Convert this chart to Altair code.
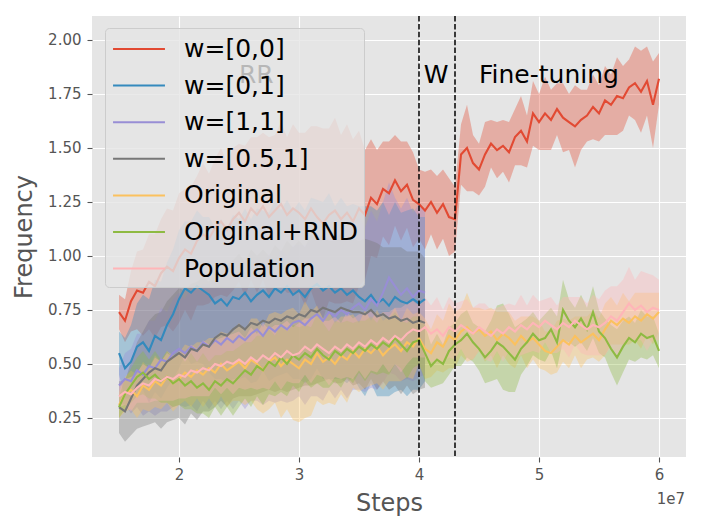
import altair as alt
import pandas as pd

SERIES = ["w=[0,0]", "w=[0,1]", "w=[1,1]", "w=[0.5,1]", "Original", "Original+RND", "Population"]
COLORS = ["#E24A33", "#348ABD", "#988ED5", "#777777", "#FBC15E", "#8EBA42", "#FFB5B8"]
START = 15_000_000
STEP = 500_000

# ---- mean curves (one value every 0.5e6 steps starting at 1.5e7) ----
red_mean = [
    0.74, 0.70, 0.79, 0.84, 0.83, 0.88, 0.86, 0.92, 0.95, 0.93,
    0.99, 1.03, 1.01, 1.07, 1.10, 1.08, 1.13, 1.16, 1.12, 1.17,
    1.20, 1.16, 1.22, 1.19, 1.23, 1.18, 1.21, 1.24, 1.19, 1.22,
    1.20, 1.17, 1.22, 1.18, 1.15, 1.19, 1.21, 1.17, 1.20, 1.16,
    1.22, 1.19, 1.27, 1.24, 1.31, 1.29, 1.35, 1.30, 1.33, 1.26,
    1.24, 1.21, 1.25, 1.20, 1.24, 1.18, 1.17, 1.47, 1.50, 1.43,
    1.40, 1.47, 1.52, 1.49, 1.51, 1.48, 1.55, 1.58, 1.53, 1.66,
    1.62, 1.66, 1.63, 1.68, 1.64, 1.62, 1.60, 1.63, 1.65, 1.69,
    1.66, 1.72, 1.70, 1.74, 1.73, 1.78, 1.80, 1.76, 1.81, 1.70,
    1.82,
]
blue_mean = [
    0.55, 0.48, 0.51, 0.58, 0.60, 0.56, 0.63, 0.61, 0.68, 0.73,
    0.80, 0.85, 0.83, 0.86, 0.84, 0.82, 0.78, 0.80, 0.77, 0.81,
    0.80, 0.83, 0.79, 0.82, 0.84, 0.81, 0.85, 0.83, 0.86, 0.82,
    0.84, 0.81, 0.85, 0.87, 0.84, 0.86, 0.83, 0.85, 0.82, 0.84,
    0.81, 0.79, 0.82, 0.78, 0.80, 0.77, 0.81, 0.79, 0.78, 0.80,
    0.78, 0.80,
]
purple_mean = [
    0.40, 0.43, 0.42, 0.47, 0.45, 0.49, 0.48, 0.52, 0.51, 0.55,
    0.57, 0.55, 0.58, 0.56, 0.60, 0.58, 0.61, 0.59, 0.62, 0.60,
    0.63, 0.61, 0.64, 0.66, 0.63, 0.67, 0.65, 0.68, 0.66, 0.69,
    0.70, 0.68, 0.71, 0.73, 0.70, 0.74, 0.72, 0.75, 0.73, 0.76,
    0.78, 0.75, 0.80, 0.77, 0.83, 0.90, 0.86, 0.82, 0.85, 0.81,
    0.84, 0.83,
]
gray_mean = [
    0.30, 0.28, 0.34, 0.40, 0.43, 0.46, 0.48, 0.47, 0.51, 0.53,
    0.55, 0.53, 0.57, 0.56, 0.59, 0.58, 0.62, 0.64, 0.63, 0.66,
    0.68, 0.66, 0.69, 0.68, 0.70, 0.69, 0.71, 0.70, 0.72, 0.71,
    0.73, 0.72, 0.75, 0.74, 0.76, 0.75, 0.74, 0.76, 0.75, 0.74,
    0.74, 0.73, 0.75, 0.72, 0.73, 0.71, 0.72, 0.70, 0.71, 0.69,
    0.70, 0.69,
]
original_mean = [
    0.31, 0.36, 0.38, 0.35, 0.40, 0.38, 0.42, 0.40, 0.44, 0.41,
    0.43, 0.46, 0.44, 0.47, 0.45, 0.48, 0.46, 0.50, 0.47, 0.49,
    0.51, 0.48, 0.52, 0.50, 0.47, 0.51, 0.53, 0.49, 0.52, 0.50,
    0.48, 0.52, 0.50, 0.55, 0.51, 0.53, 0.50, 0.54, 0.52, 0.56,
    0.53, 0.57, 0.55, 0.58, 0.54, 0.57, 0.59, 0.56, 0.60, 0.58,
    0.62, 0.57, 0.55, 0.60, 0.58, 0.63, 0.61, 0.65, 0.67, 0.64,
    0.66, 0.63, 0.65, 0.61, 0.64, 0.62, 0.59, 0.63, 0.60, 0.62,
    0.59, 0.56, 0.55, 0.58, 0.61, 0.59, 0.63, 0.60, 0.62, 0.64,
    0.61, 0.66, 0.70, 0.68, 0.71, 0.69, 0.72, 0.70, 0.73, 0.71,
    0.74,
]
rnd_mean = [
    0.30, 0.36, 0.40, 0.44, 0.46, 0.43, 0.45, 0.42, 0.44, 0.41,
    0.43, 0.40, 0.42, 0.39, 0.41, 0.38, 0.42, 0.40, 0.43, 0.41,
    0.44, 0.47, 0.45, 0.49, 0.47, 0.51, 0.49, 0.53, 0.50, 0.54,
    0.52, 0.55, 0.53, 0.57, 0.54, 0.52, 0.56, 0.54, 0.57, 0.55,
    0.58, 0.56, 0.59, 0.57, 0.60, 0.58, 0.62, 0.59, 0.56, 0.60,
    0.61, 0.55, 0.49, 0.52, 0.50, 0.56, 0.59, 0.61, 0.64, 0.60,
    0.57, 0.53, 0.56, 0.60, 0.58, 0.55, 0.52, 0.57, 0.60, 0.64,
    0.61, 0.62, 0.66, 0.60, 0.75, 0.70, 0.67, 0.71, 0.66, 0.74,
    0.65, 0.62, 0.57, 0.53, 0.58, 0.62, 0.60, 0.64, 0.62, 0.63,
    0.56,
]
pop_mean = [
    0.35, 0.37, 0.36, 0.39, 0.41, 0.40, 0.43, 0.42, 0.44, 0.43,
    0.45, 0.44, 0.47, 0.46, 0.48, 0.47, 0.50, 0.49, 0.51, 0.50,
    0.52, 0.50, 0.53, 0.51, 0.54, 0.52, 0.55, 0.53, 0.56, 0.54,
    0.55, 0.58, 0.56, 0.59, 0.57, 0.55, 0.58, 0.56, 0.59, 0.57,
    0.60, 0.58, 0.61, 0.59, 0.62, 0.60, 0.63, 0.61, 0.64, 0.66,
    0.65, 0.67, 0.64, 0.66, 0.63, 0.67, 0.65, 0.68, 0.66, 0.64,
    0.67, 0.65, 0.63, 0.66, 0.64, 0.67, 0.65, 0.68, 0.66, 0.69,
    0.67, 0.70, 0.68, 0.66, 0.69, 0.67, 0.70, 0.68, 0.66, 0.68,
    0.67, 0.69, 0.72, 0.70, 0.74, 0.78, 0.75, 0.77, 0.74, 0.76,
    0.75,
]

# ---- half-width of the shaded bands ----
red_spread = [
    0.08, 0.10, 0.14, 0.18, 0.20, 0.22, 0.24, 0.25, 0.27, 0.28,
    0.30, 0.28, 0.31, 0.30, 0.33, 0.30, 0.32, 0.34, 0.31, 0.33,
    0.32, 0.35, 0.33, 0.36, 0.34, 0.37, 0.35, 0.38, 0.36, 0.39,
    0.37, 0.40, 0.38, 0.42, 0.44, 0.40, 0.43, 0.39, 0.41, 0.38,
    0.36, 0.30, 0.27, 0.25, 0.22, 0.24, 0.21, 0.23, 0.20, 0.22,
    0.16, 0.18, 0.15, 0.17, 0.16, 0.18, 0.15, 0.14, 0.20, 0.13,
    0.12, 0.15, 0.11, 0.13, 0.12, 0.14, 0.13, 0.16, 0.12, 0.15,
    0.13, 0.17, 0.14, 0.12, 0.16, 0.13, 0.19, 0.14, 0.12, 0.15,
    0.13, 0.16, 0.14, 0.18, 0.15, 0.13, 0.17, 0.19, 0.16, 0.20,
    0.12,
]
blue_spread = [
    0.10, 0.14, 0.17, 0.20, 0.22, 0.24, 0.26, 0.27, 0.29, 0.30,
    0.32, 0.31, 0.33, 0.35, 0.34, 0.36, 0.35, 0.37, 0.36, 0.38,
    0.37, 0.39, 0.38, 0.40, 0.37, 0.39, 0.41, 0.38, 0.40, 0.39,
    0.41, 0.40, 0.42, 0.39, 0.41, 0.43, 0.40, 0.42, 0.41, 0.40,
    0.42, 0.44, 0.41, 0.43, 0.45, 0.42, 0.44, 0.41, 0.43, 0.42,
    0.40, 0.38,
]
purple_spread = [
    0.08, 0.12, 0.15, 0.17, 0.19, 0.21, 0.22, 0.24, 0.23, 0.25,
    0.26, 0.25, 0.27, 0.28, 0.27, 0.29, 0.28, 0.30, 0.29, 0.31,
    0.30, 0.32, 0.31, 0.33, 0.32, 0.34, 0.33, 0.35, 0.34, 0.36,
    0.35, 0.37, 0.36, 0.38, 0.37, 0.36, 0.38, 0.37, 0.39, 0.38,
    0.40, 0.38, 0.41, 0.39, 0.42, 0.44, 0.41, 0.40, 0.42, 0.39,
    0.40, 0.38,
]
gray_spread = [
    0.12, 0.14, 0.17, 0.20, 0.22, 0.24, 0.25, 0.27, 0.28, 0.29,
    0.30, 0.31, 0.30, 0.32, 0.31, 0.30, 0.32, 0.31, 0.33, 0.32,
    0.33, 0.31, 0.34, 0.32, 0.33, 0.31, 0.34, 0.32, 0.35, 0.33,
    0.34, 0.32, 0.35, 0.33, 0.34, 0.32, 0.33, 0.35, 0.32, 0.34,
    0.33, 0.35, 0.32, 0.34, 0.31, 0.33, 0.32, 0.34, 0.31, 0.33,
    0.32, 0.30,
]
original_spread = [
    0.06, 0.08, 0.09, 0.10, 0.11, 0.10, 0.12, 0.11, 0.12, 0.13,
    0.12, 0.13, 0.14, 0.13, 0.15, 0.14, 0.16, 0.15, 0.17, 0.16,
    0.18, 0.17, 0.19, 0.21, 0.20, 0.22, 0.21, 0.24, 0.23, 0.26,
    0.25, 0.27, 0.24, 0.22, 0.20, 0.21, 0.19, 0.18, 0.20, 0.17,
    0.16, 0.18, 0.15, 0.17, 0.16, 0.15, 0.17, 0.14, 0.16, 0.15,
    0.12, 0.14, 0.11, 0.13, 0.12, 0.15, 0.13, 0.11, 0.16, 0.12,
    0.10, 0.12, 0.11, 0.13, 0.10, 0.12, 0.11, 0.09, 0.12, 0.10,
    0.11, 0.09, 0.10, 0.12, 0.10, 0.11, 0.09, 0.12, 0.10, 0.11,
    0.10, 0.12, 0.11, 0.09, 0.12, 0.10, 0.11, 0.13, 0.10, 0.12,
    0.09,
]
rnd_spread = [
    0.05, 0.07, 0.08, 0.09, 0.10, 0.09, 0.11, 0.10, 0.12, 0.11,
    0.12, 0.11, 0.13, 0.12, 0.14, 0.13, 0.12, 0.14, 0.13, 0.15,
    0.14, 0.13, 0.15, 0.14, 0.16, 0.15, 0.14, 0.16, 0.15, 0.14,
    0.15, 0.13, 0.14, 0.16, 0.15, 0.13, 0.14, 0.15, 0.13, 0.14,
    0.12, 0.14, 0.13, 0.12, 0.14, 0.13, 0.12, 0.11, 0.13, 0.12,
    0.11, 0.13, 0.10, 0.12, 0.09, 0.11, 0.10, 0.12, 0.11, 0.09,
    0.10, 0.12, 0.14, 0.17, 0.20, 0.18, 0.15, 0.12, 0.11, 0.10,
    0.09, 0.11, 0.10, 0.12, 0.14, 0.10, 0.09, 0.11, 0.10, 0.12,
    0.10, 0.09, 0.11, 0.13, 0.12, 0.10, 0.09, 0.11, 0.10, 0.09,
    0.08,
]
pop_spread = [
    0.05, 0.06, 0.08, 0.07, 0.09, 0.08, 0.10, 0.09, 0.11, 0.10,
    0.11, 0.10, 0.12, 0.11, 0.13, 0.12, 0.11, 0.13, 0.12, 0.14,
    0.13, 0.12, 0.14, 0.13, 0.15, 0.14, 0.13, 0.15, 0.14, 0.13,
    0.14, 0.13, 0.15, 0.14, 0.13, 0.15, 0.14, 0.13, 0.15, 0.14,
    0.13, 0.15, 0.14, 0.13, 0.12, 0.14, 0.13, 0.15, 0.14, 0.13,
    0.12, 0.14, 0.13, 0.15, 0.12, 0.14, 0.13, 0.11, 0.14, 0.12,
    0.11, 0.13, 0.12, 0.10, 0.13, 0.11, 0.12, 0.14, 0.11, 0.13,
    0.12, 0.10, 0.13, 0.11, 0.12, 0.14, 0.11, 0.13, 0.12, 0.14,
    0.13, 0.15, 0.14, 0.16, 0.15, 0.17, 0.14, 0.16, 0.18, 0.15,
    0.14,
]

MEANS = [red_mean, blue_mean, purple_mean, gray_mean, original_mean, rnd_mean, pop_mean]
SPREADS = [red_spread, blue_spread, purple_spread, gray_spread, original_spread, rnd_spread, pop_spread]

# phase boundaries and annotations
VLINES = [40_000_000, 43_000_000]
ANN_X = [25_000_000, 40_400_000, 45_000_000]
ANN_Y = [1.8, 1.8, 1.8]
ANN_TEXT = ["RR", "W", "Fine-tuning"]

X_TICKS = [20_000_000, 30_000_000, 40_000_000, 50_000_000, 60_000_000]
Y_TICKS = [0.25, 0.5, 0.75, 1.0, 1.25, 1.5, 1.75, 2.0]

rows = []
for k, name in enumerate(SERIES):
    for i, (m, s) in enumerate(zip(MEANS[k], SPREADS[k])):
        rows.append({"series": name, "step": START + STEP * i,
                     "mean": m, "lo": m - s, "hi": m + s, "ord": k})
df = pd.DataFrame(rows)

FONT = "DejaVu Sans"
W, H = 594, 441

xscale = alt.Scale(domain=[12_750_000, 62_250_000], nice=False, zero=False)
yscale = alt.Scale(domain=[0.069, 2.111], nice=False, zero=False)

xaxis = alt.Axis(values=X_TICKS, labelExpr="format(datum.value / 1e7, 'd')", title="Steps")
yaxis = alt.Axis(values=Y_TICKS, format=".2f", title="Frequency")

base = alt.Chart(df)

bands = base.mark_area(opacity=0.36, strokeWidth=0).encode(
    x=alt.X("step:Q", scale=xscale, axis=xaxis),
    y=alt.Y("lo:Q", scale=yscale, axis=yaxis),
    y2="hi:Q",
    fill=alt.Fill("series:N", scale=alt.Scale(domain=SERIES, range=COLORS), legend=None),
    detail="ord:O",
)

legend = alt.Legend(
    title=None, orient="none", legendX=13, legendY=12,
    symbolType="M-1.73,0H1.73", symbolSize=900, symbolStrokeWidth=2,
    labelFontSize=25, labelFont=FONT, labelColor="black", labelLimit=400,
    padding=5, rowPadding=7.6, symbolOffset=13, labelOffset=29,
    fillColor="rgba(229,229,229,0.8)", strokeColor="#CCCCCC", cornerRadius=4,
)

lines = base.mark_line(strokeWidth=2.1).encode(
    x=alt.X("step:Q", scale=xscale),
    y=alt.Y("mean:Q", scale=yscale),
    stroke=alt.Stroke("series:N", scale=alt.Scale(domain=SERIES, range=COLORS),
                      legend=legend, sort=SERIES),
)

vl = alt.Chart(pd.DataFrame({"step": VLINES})).mark_rule(
    color="black", strokeDash=[5.5, 2.4], strokeWidth=1.5
).encode(x=alt.X("step:Q", scale=xscale))

ann = alt.Chart(pd.DataFrame({"x": ANN_X, "y": ANN_Y, "t": ANN_TEXT})).mark_text(
    font=FONT, fontSize=25, color="black", align="left", baseline="alphabetic"
).encode(x=alt.X("x:Q", scale=xscale), y=alt.Y("y:Q", scale=yscale), text="t:N")

offset_txt = alt.Chart(pd.DataFrame({"t": ["1e7"]})).mark_text(
    font=FONT, fontSize=15, color="#555555", align="right", baseline="alphabetic"
).encode(x=alt.value(W - 1), y=alt.value(H + 47), text="t:N")

chart = alt.layer(bands, lines, vl, ann, offset_txt).resolve_scale(
    fill="independent", stroke="independent"
).properties(
    width=W, height=H,
    autosize=alt.AutoSizeParams(type="none"),
    padding={"left": 84, "top": 8, "right": 8, "bottom": 60},
    background="white",
).configure_view(
    fill="#E5E5E5", strokeWidth=0
).configure_axis(
    grid=True, gridColor="white", gridWidth=1.1, domain=False,
    tickColor="#555555", tickSize=5, tickWidth=1.1,
    labelFont=FONT, labelFontSize=15, labelColor="#555555",
    titleFont=FONT, titleFontSize=24, titleColor="#555555", titleFontWeight="normal",
).configure_axisX(
    labelPadding=5, titlePadding=9,
).configure_axisY(
    labelPadding=6, titlePadding=11,
)

chart.save("out.html", embed_options={"renderer": "svg", "actions": False})
